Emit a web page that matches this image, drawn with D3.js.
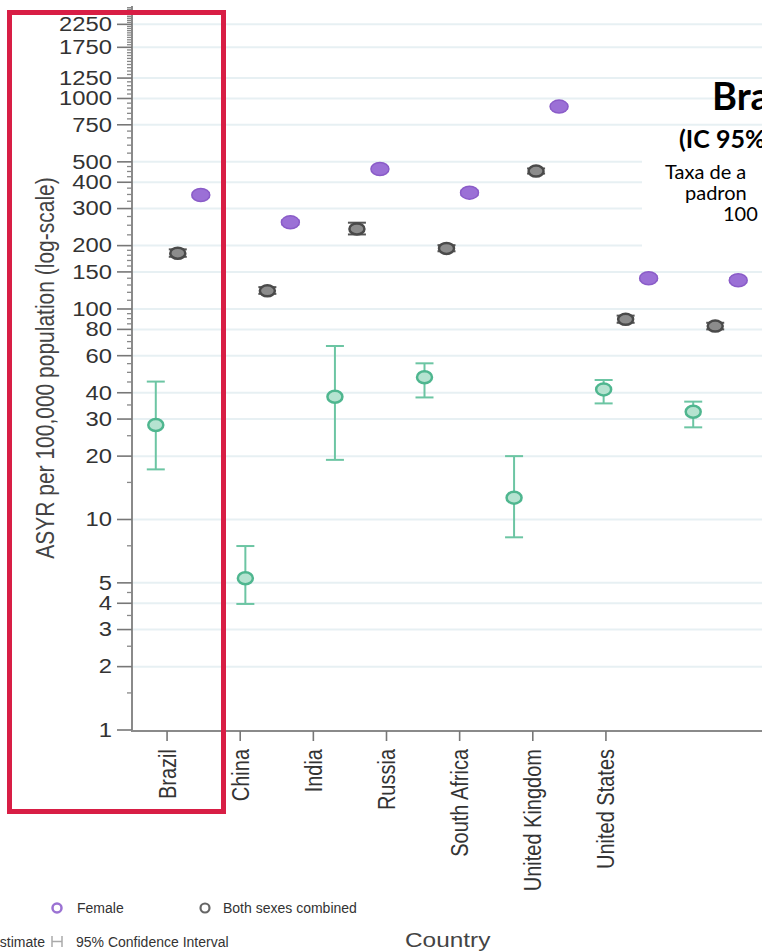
<!DOCTYPE html>
<html>
<head>
<meta charset="utf-8">
<script src="https://cdn.jsdelivr.net/npm/d3@7"></script>
<style>
  html, body { margin: 0; padding: 0; background: #fff; overflow: hidden; }
  svg { display: block; }
</style>
</head>
<body>
<svg id="chart" width="762" height="951"></svg>
<script>
// data (ASYR per 100,000, log scale)
var countries = ["Brazil", "China", "India", "Russia", "South Africa", "United Kingdom", "United States"];

var female   = [348, 258, 462, 357, 915, 140, 137];
var femaleLo = [340, 252, 452, 349, 896, 137, 134];
var femaleHi = [356, 264, 472, 365, 934, 143, 140];

var both   = [184, 122, 240, 194, 452, 89.3, 83.0];
var bothLo = [177, 118, 226, 188, 440, 86, 80];
var bothHi = [192, 127, 257, 201, 465, 93, 86];

var male   = [28.1, 5.26, 38.3, 47.4, 12.7, 41.5, 32.5];
var maleLo = [17.3, 3.97, 19.2, 38.0, 8.23, 35.6, 27.4];
var maleHi = [45.2, 7.48, 66.7, 55.2, 20.0, 46.0, 36.3];

var yTicks = [1, 2, 3, 4, 5, 10, 20, 30, 40, 60, 80, 100, 150, 200, 300, 400, 500, 750, 1000, 1250, 1750, 2250];

var svg = d3.select("#chart");
var fontAxis = "'Liberation Sans', Arial, sans-serif";
var sx = 1.22; // the picture is stretched sideways

var y = d3.scaleLog().domain([1, 2750]).range([730, 6]);
// markers and axis labels do not share spacing in the picture
var xMark = d3.scaleBand().domain(countries).range([133, 760]);
var xLab = d3.scaleBand().domain(countries).range([130.5, 642.5]);
var off = { male: -22, both: 0, female: 23 };

// minor ticks
var minor = [].concat(
    d3.range(1.5, 5, 0.5), [7.5], [15, 25, 35], d3.range(45, 100, 5),
    d3.range(110, 200, 10), d3.range(225, 500, 25), d3.range(550, 2750, 50))
  .filter(function(v) { return yTicks.indexOf(v) < 0; });

// gridlines
svg.append("g").selectAll("line").data(yTicks.slice(1)).enter()
  .append("line")
    .attr("x1", 133).attr("x2", 762)
    .attr("y1", function(d) { return y(d); })
    .attr("y2", function(d) { return y(d); })
    .attr("stroke", "#e7f0f3")
    .attr("stroke-width", 2);

// white box behind the side note
svg.append("rect").attr("x", 642).attr("y", 154).attr("width", 120).attr("height", 98).attr("fill", "#fff");

// y axis
var ya = svg.append("g");
ya.append("line").attr("x1", 132).attr("x2", 132).attr("y1", 6).attr("y2", 731)
  .attr("stroke", "#8a8a8a").attr("stroke-width", 2);
ya.selectAll(".major").data(yTicks).enter().append("line")
    .attr("x1", 117).attr("x2", 132)
    .attr("y1", function(d) { return y(d); }).attr("y2", function(d) { return y(d); })
    .attr("stroke", "#777").attr("stroke-width", 1.6);
ya.selectAll(".minor").data(minor).enter().append("line")
    .attr("x1", 127).attr("x2", 132)
    .attr("y1", function(d) { return y(d); }).attr("y2", function(d) { return y(d); })
    .attr("stroke", "#888").attr("stroke-width", 1.3);
ya.selectAll("text").data(yTicks).enter().append("text")
    .attr("transform", function(d) { return "translate(112," + y(d) + ") scale(" + sx + ",1)"; })
    .attr("dy", "0.35em")
    .attr("text-anchor", "end")
    .attr("font-family", fontAxis).attr("font-size", "19.5px").attr("fill", "#333")
    .text(function(d) { return d; });

svg.append("text")
  .attr("transform", "translate(45,368) rotate(-90) scale(1," + sx + ")")
  .attr("dy", "0.35em")
  .attr("text-anchor", "middle")
  .attr("font-family", fontAxis).attr("font-size", "21px").attr("fill", "#444")
  .text("ASYR per 100,000 population (log-scale)");

// x axis
var xa = svg.append("g");
xa.append("line").attr("x1", 131).attr("x2", 762).attr("y1", 731).attr("y2", 731)
  .attr("stroke", "#8a8a8a").attr("stroke-width", 2);
xa.selectAll(".tick").data(countries).enter().append("line")
    .attr("x1", function(d) { return xLab(d) + xLab.bandwidth() / 2; })
    .attr("x2", function(d) { return xLab(d) + xLab.bandwidth() / 2; })
    .attr("y1", 731).attr("y2", 741)
    .attr("stroke", "#777").attr("stroke-width", 1.6);
xa.selectAll("text").data(countries).enter().append("text")
    .attr("transform", function(d) {
      return "translate(" + (xLab(d) + xLab.bandwidth() / 2) + ",749) rotate(-90) scale(1," + sx + ")";
    })
    .attr("dy", "0.35em")
    .attr("text-anchor", "end")
    .attr("font-family", fontAxis).attr("font-size", "20px").attr("fill", "#333")
    .text(function(d) { return d; });

// error bars + markers
function series(vals, lo, hi, dx, col, draw) {
  var g = svg.append("g");
  var cx = function(d, i) { return xMark(countries[i]) + xMark.bandwidth() / 2 + dx; };
  g.selectAll(".ci").data(vals).enter().append("line")
      .attr("x1", cx).attr("x2", cx)
      .attr("y1", function(d, i) { return y(lo[i]); })
      .attr("y2", function(d, i) { return y(hi[i]); })
      .attr("stroke", col).attr("stroke-width", 2);
  [lo, hi].forEach(function(arr) {
    g.selectAll(null).data(vals).enter().append("line")
        .attr("x1", function(d, i) { return cx(d, i) - 9; })
        .attr("x2", function(d, i) { return cx(d, i) + 9; })
        .attr("y1", function(d, i) { return y(arr[i]); })
        .attr("y2", function(d, i) { return y(arr[i]); })
        .attr("stroke", col).attr("stroke-width", 2);
  });
  var m = g.selectAll(".pt").data(vals).enter().append("ellipse")
      .attr("cx", cx)
      .attr("cy", function(d) { return y(d); });
  draw(m);
}

series(male, maleLo, maleHi, off.male, "#6cc5a3", function(m) {
  m.attr("rx", 7.5).attr("ry", 6).attr("fill", "#b5e3d0").attr("stroke", "#4fb68f").attr("stroke-width", 2.5);
});
series(both, bothLo, bothHi, off.both, "#555", function(m) {
  m.attr("rx", 7.5).attr("ry", 5.5).attr("fill", "#8c8c8c").attr("stroke", "#4a4a4a").attr("stroke-width", 2.5);
});
series(female, femaleLo, femaleHi, off.female, "#8f63cc", function(m) {
  m.attr("rx", 9).attr("ry", 6.5).attr("fill", "#9b70d6").attr("stroke", "#8a5cc8").attr("stroke-width", 1.5);
});

// legend
var lg = svg.append("g").attr("font-family", fontAxis).attr("font-size", "14px").attr("fill", "#333");
lg.append("circle").attr("cx", 57).attr("cy", 908).attr("r", 4.5)
  .attr("fill", "#fff").attr("stroke", "#9b72d3").attr("stroke-width", 2.5);
lg.append("text").attr("x", 77).attr("y", 913).text("Female");
lg.append("circle").attr("cx", 205).attr("cy", 908).attr("r", 4.5)
  .attr("fill", "#fff").attr("stroke", "#666").attr("stroke-width", 2.2);
lg.append("text").attr("x", 223).attr("y", 913).text("Both sexes combined");
lg.append("text").attr("x", 45).attr("y", 947).attr("text-anchor", "end").text("Estimate");
lg.append("path").attr("d", "M52,936V947M52,941.5H62M62,936V947")
  .attr("fill", "none").attr("stroke", "#aaa").attr("stroke-width", 1.5);
lg.append("text").attr("x", 76).attr("y", 947).text("95% Confidence Interval");

svg.append("text")
  .attr("transform", "translate(405,947) scale(" + sx + ",1)")
  .attr("font-family", fontAxis).attr("font-size", "20px").attr("fill", "#444")
  .text("Country");

// side note (cut by the right edge)
var note = svg.append("g").attr("font-family", "Lato, 'Open Sans', sans-serif").attr("fill", "#000");
note.append("text").attr("x", 712).attr("y", 110).attr("font-size", "38px").attr("font-weight", "bold").text("Brasil");
note.append("text").attr("x", 679).attr("y", 148).attr("font-size", "25px").attr("font-weight", "bold").text("(IC 95%)");
note.append("text").attr("x", 665).attr("y", 179).attr("font-size", "20px").text("Taxa de a");
note.append("text").attr("x", 685).attr("y", 200).attr("font-size", "20px").text("padron");
note.append("text").attr("x", 723).attr("y", 221).attr("font-size", "20px").text("100");

// red highlight box round Brazil
svg.append("rect")
  .attr("x", 9.5).attr("y", 12.5).attr("width", 214).attr("height", 799)
  .attr("fill", "none").attr("stroke", "#d81e45").attr("stroke-width", 5);
</script>
</body>
</html>
